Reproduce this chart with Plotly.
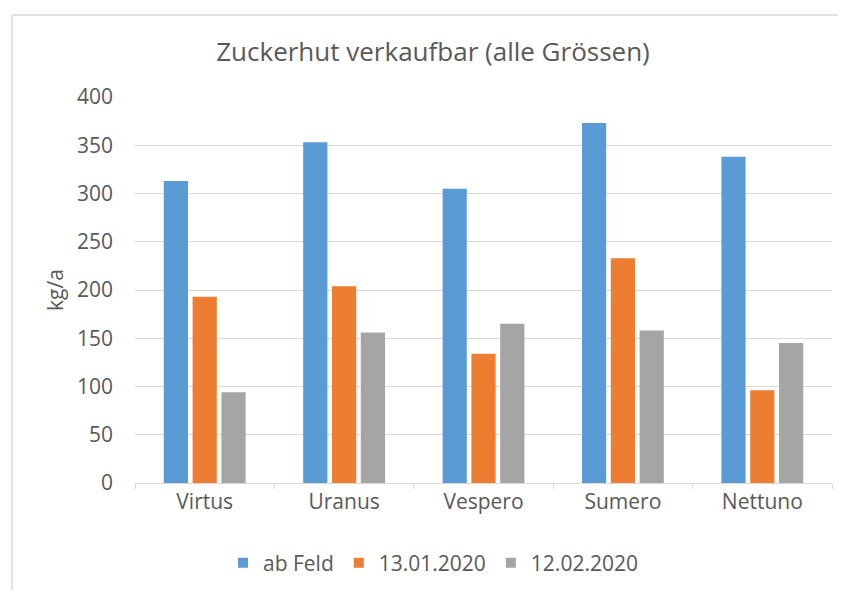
import plotly.graph_objects as go

categories = ["Virtus", "Uranus", "Vespero", "Sumero", "Nettuno"]
ab_feld = [313, 353, 305, 373, 338]
jan_13 = [193, 204, 134, 233, 96]
feb_12 = [94, 156, 165, 158, 145]
series_names = ["ab Feld", "13.01.2020", "12.02.2020"]
colors = ["#5B9BD5", "#ED7D31", "#A5A5A5"]
y_ticks = [0, 50, 100, 150, 200, 250, 300, 350, 400]

FONT = "Open Sans, Arial, sans-serif"
TXT = "#595959"
OFF = 8  # page body margin

fig = go.Figure()
for name, vals, col in zip(series_names, [ab_feld, jan_13, feb_12], colors):
    fig.add_trace(go.Bar(x=categories, y=vals, name=name, marker_color=col,
                         marker_line_width=0, showlegend=False))
    fig.add_trace(go.Scatter(x=[None], y=[None], mode="markers", name=name,
                             marker=dict(symbol="square", size=10, color=col),
                             showlegend=True))

W, H = 846 - OFF, 590 - OFF
L, R, T, B = 135 - OFF, 846 - 832, 97 - OFF, 590 - 483
PW, PH = W - L - R, H - T - B
fig.update_layout(
    width=W, height=H,
    margin=dict(l=L, r=R, t=T, b=B, autoexpand=False),
    paper_bgcolor="white", plot_bgcolor="white",
    font=dict(family=FONT, color=TXT, size=21),
    barmode="group", bargap=0.38, bargroupgap=0.16,
    title=dict(text="Zuckerhut verkaufbar (alle Grössen)", x=(433 - OFF) / W, xref="container",
               xanchor="center", y=1 - (52 - OFF) / H, yref="container", yanchor="middle",
               font=dict(size=26, color=TXT, family=FONT)),
    showlegend=True,
    legend=dict(orientation="h", xref="container", yref="container",
                x=(433 - OFF) / W, xanchor="center", y=1 - (563 - OFF) / H, yanchor="middle",
                font=dict(size=21, color=TXT), itemwidth=30, traceorder="normal"),
    xaxis=dict(showgrid=False, showline=True, linecolor="#D9D9D9", linewidth=1,
               ticks="outside", tickson="boundaries", tickcolor="#D9D9D9", ticklen=5,
               tickfont=dict(size=21, color=TXT)),
    yaxis=dict(range=[0, 400], tickvals=y_ticks, showgrid=True, gridcolor="#D9D9D9",
               gridwidth=1, zeroline=False, showline=False, ticks="",
               tickfont=dict(size=21, color=TXT), ticklabelstandoff=21),
)
fig.add_annotation(text="kg/a", xref="paper", yref="paper", x=(55 - OFF - L) / PW,
                   y=(H - B - (290 - OFF)) / PH, textangle=-90, showarrow=False,
                   font=dict(size=21, color=TXT), xanchor="center", yanchor="middle")
bx = (12 - OFF - L) / PW
by = (H - B - (15 - OFF)) / PH
fig.add_shape(type="line", xref="paper", yref="paper", x0=bx, x1=bx, y0=by, y1=-B / PH - 0.05,
              line=dict(color="#D9D9D9", width=1.5), layer="below")
fig.add_shape(type="line", xref="paper", yref="paper", x0=bx, x1=1 + R / PW + 0.05, y0=by, y1=by,
              line=dict(color="#D9D9D9", width=1.5), layer="below")
fig.write_html("out.html")
